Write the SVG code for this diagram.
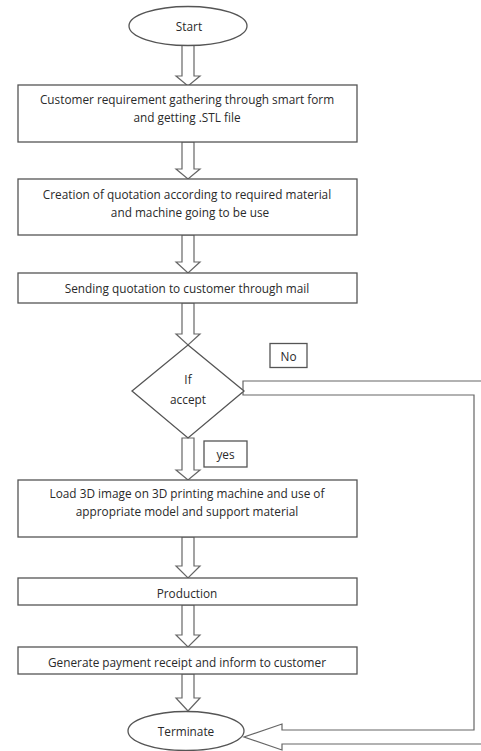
<svg xmlns="http://www.w3.org/2000/svg" width="481" height="751" viewBox="0 0 481 751">
<style>
.s{fill:#fff;stroke:#555;stroke-width:1.3}
.c{fill:#fff;stroke:#666;stroke-width:1.2}
text{font-family:"Open Sans","Liberation Sans",Arial,sans-serif;font-size:11.8px;fill:#2a2a2a;text-anchor:middle;dominant-baseline:central}
</style>
<rect width="481" height="751" fill="#fff"/>
<g id="connectors">
<polygon class="c" points="182,45 194,45 194,76 200,76 188,86 176,76 182,76"/>
<polygon class="c" points="182,142 194,142 194,169 200,169 188,179 176,169 182,169"/>
<polygon class="c" points="182,235 194,235 194,262 200,262 188,273 176,262 182,262"/>
<polygon class="c" points="182,303 194,303 194,334 200,334 188,345 176,334 182,334"/>
<polygon class="c" points="182,438 194,438 194,470 200,470 188,480 176,470 182,470"/>
<polygon class="c" points="182,537 194,537 194,566 200,566 188,578 176,566 182,566"/>
<polygon class="c" points="182,605 194,605 194,635 200,635 188,647 176,635 182,635"/>
<polygon class="c" points="182,674 194,674 194,698 200,698 188,711 176,698 182,698"/>
<polygon class="c" points="243,381 488,381 488,744 282,744 282,750 244,737 282,724 282,730 474,730 474,395 243,395"/>
</g>
<g id="start"><ellipse class="s" cx="188" cy="26" rx="59" ry="19.5"/><text x="189" y="26">Start</text></g>
<g id="n1"><rect class="s" x="18" y="85" width="339" height="57"/><text x="187" y="99">Customer requirement gathering through smart form</text><text x="187" y="116.5">and getting .STL file</text></g>
<g id="n2"><rect class="s" x="18" y="179" width="339" height="56"/><text x="187" y="194">Creation of quotation according to required material</text><text x="190" y="211.5">and machine going to be use</text></g>
<g id="n3"><rect class="s" x="18" y="273" width="339" height="30"/><text x="187" y="288">Sending quotation to customer through mail</text></g>
<g id="decision"><polygon class="s" points="188,345 244,391 188,438 132,391"/><text x="188" y="379">If</text><text x="188" y="399">accept</text></g>
<g id="no"><rect class="s" x="270" y="343.5" width="37" height="24"/><text x="288.5" y="355.5">No</text></g>
<g id="yes"><rect class="s" x="204" y="441" width="43" height="26"/><text x="225.5" y="454">yes</text></g>
<g id="n4"><rect class="s" x="18" y="480" width="339" height="57"/><text x="187" y="493">Load 3D image on 3D printing machine and use of</text><text x="187" y="511">appropriate model and support material</text></g>
<g id="n5"><rect class="s" x="18" y="578" width="339" height="27"/><text x="187" y="592.5">Production</text></g>
<g id="n6"><rect class="s" x="18" y="647" width="339" height="27"/><text x="187" y="661.5">Generate payment receipt and inform to customer</text></g>
<g id="terminate"><ellipse class="s" cx="186" cy="731" rx="58" ry="19.5"/><text x="186" y="730.5">Terminate</text></g>
</svg>
